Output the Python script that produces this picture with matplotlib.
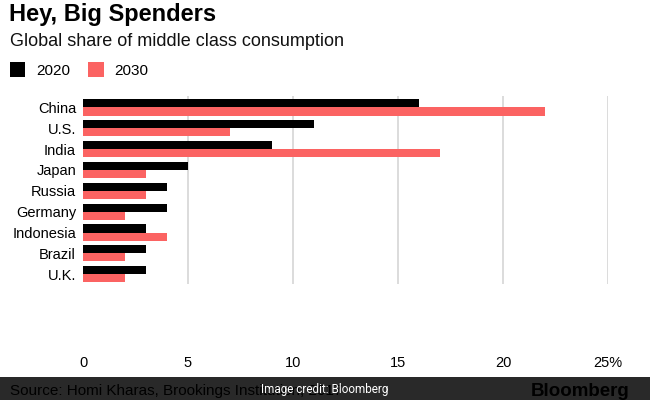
import numpy as np
import matplotlib.pyplot as plt
from matplotlib.patches import Rectangle

# ---------------------------------------------------------------------
# Datos (porcentaje del consumo global de la clase media)
# ---------------------------------------------------------------------
paises = ["China", "U.S.", "India", "Japan", "Russia", "Germany",
          "Indonesia", "Brazil", "U.K."]
share_2020 = [16, 11, 9, 5, 4, 4, 3, 3, 3]
share_2030 = [22, 7, 17, 3, 3, 2, 4, 2, 2]
xticks = [0, 5, 10, 15, 20, 25]
xtick_labels = ["0", "5", "10", "15", "20", "25%"]

color_2020 = "#000000"
color_2030 = "#fb6362"

plt.rcParams["font.family"] = ["Liberation Sans", "DejaVu Sans"]

fig = plt.figure(figsize=(6.5, 4), dpi=100)
ax = fig.add_axes([83 / 650, 1 - 284 / 400, (608 - 83) / 650, (284 - 96) / 400])

y = np.arange(len(paises))
h = 0.39
ax.barh(y - h / 2, share_2020, height=h, color=color_2020, label="2020", zorder=3)
ax.barh(y + h / 2, share_2030, height=h, color=color_2030, label="2030", zorder=3)

ax.set_xlim(0, 25)
ax.set_ylim(len(paises) - 1 + 0.47, -0.55)
ax.set_yticks(y)
ax.set_yticklabels(paises, fontsize=10.5)
ax.set_xticks(xticks)
ax.set_xticklabels(xtick_labels, fontsize=10.5)
ax.tick_params(axis="both", length=0)
ax.tick_params(axis="y", pad=5)
ax.tick_params(axis="x", pad=52)
for s in ax.spines.values():
    s.set_visible(False)

ax.grid(axis="x", color="#dcdcdc", linewidth=1.4, zorder=0)
ax.xaxis.get_gridlines()[0].set_visible(False)

# ---------------------------------------------------------------------
# Títulos y leyenda
# ---------------------------------------------------------------------
fig.text(9 / 650, 1 - 15 / 400, "Hey, Big Spenders", fontsize=17,
         fontweight="bold", va="center", ha="left")
fig.text(10 / 650, 1 - 41 / 400, "Global share of middle class consumption",
         fontsize=13, va="center", ha="left", color="#111111")
fig.legend(loc="center left", bbox_to_anchor=(4 / 650, 1 - 70 / 400), ncol=2,
           frameon=False, fontsize=11, handlelength=1.0, handleheight=1.1,
           handletextpad=0.7, columnspacing=1.2, borderaxespad=0)

# ---------------------------------------------------------------------
# Pie: fuente, logo y banda de crédito
# ---------------------------------------------------------------------
fig.text(10 / 650, 1 - 391 / 400, "Source: Homi Kharas, Brookings Institution, 2017",
         fontsize=11, va="center", ha="left", color="#000000")
fig.text(630 / 650, 1 - 392 / 400, "Bloomberg", fontsize=13.5, fontweight="bold",
         va="center", ha="right", color="#000000")
fig.add_artist(Rectangle((0, 0), 1, 23 / 400, transform=fig.transFigure,
                         facecolor="#171717", alpha=0.92, edgecolor="none"))
fig.text(325 / 650, 1 - 389 / 400, "Image credit: Bloomberg", fontsize=8.5,
         va="center", ha="center", color="white", family=["Roboto", "DejaVu Sans"])

fig.savefig("out.png", dpi=100)
